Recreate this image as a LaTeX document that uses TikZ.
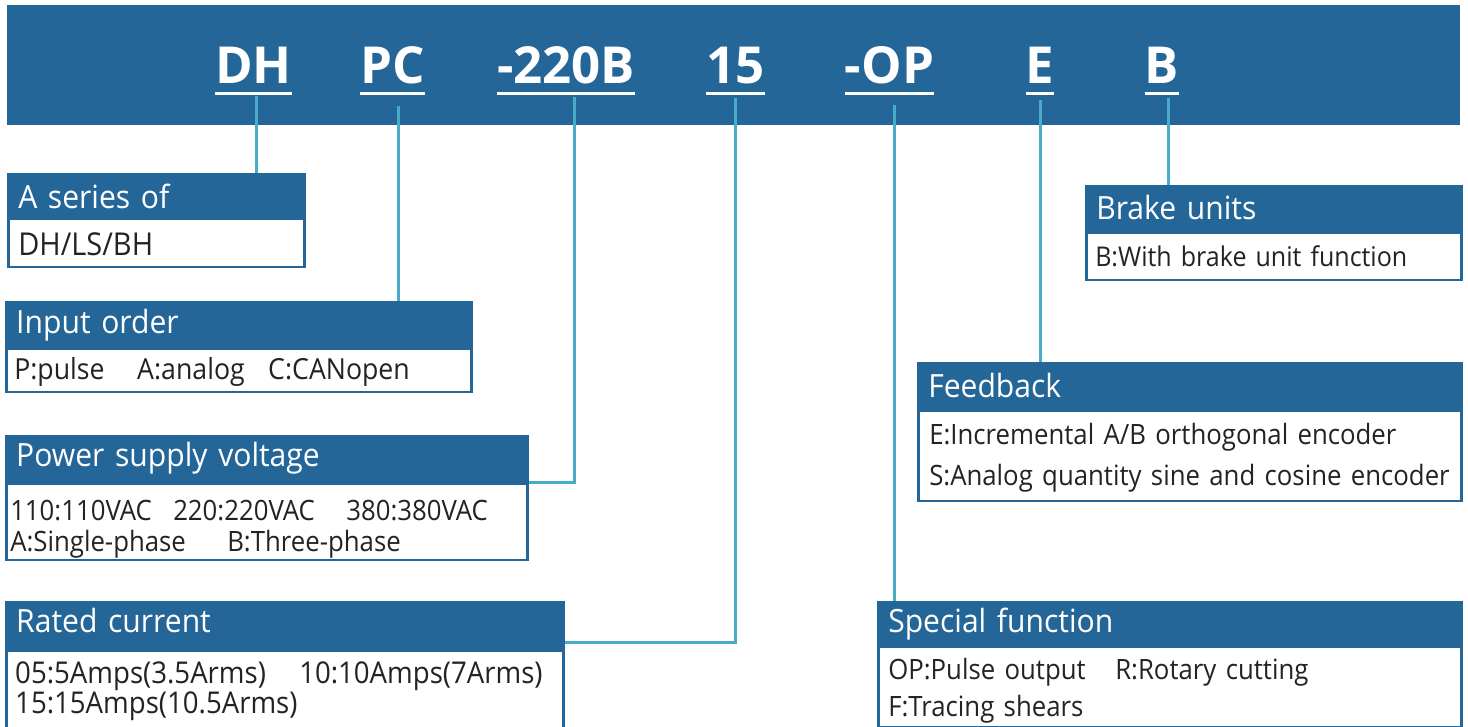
\documentclass[tikz,border=0pt]{standalone}
\usepackage{fontspec}
\setmainfont{Open Sans}
\newfontfamily\headfont[FakeStretch=0.94]{Open Sans}
\newfontfamily\bodyfont[FakeStretch=0.92]{Open Sans}
\usetikzlibrary{positioning}
\definecolor{dhblue}{RGB}{37,102,153}
\definecolor{dhteal}{RGB}{72,172,201}
\definecolor{dhtext}{RGB}{35,35,35}

\tikzset{
  head/.style={draw=dhblue, fill=dhblue, line width=2.5pt, text=white, anchor=north west,
    inner xsep=10pt, inner ysep=0pt, align=left, font=\headfont\fontsize{32}{36}\selectfont},
  body/.style={draw=dhblue, fill=white, line width=2.5pt, text=dhtext, anchor=north west,
    inner xsep=10pt, inner ysep=0pt, align=left, font=\bodyfont\fontsize{28}{32}\selectfont},
  bsize/.style={font=\bodyfont\fontsize{#1}{32}\selectfont},
  code/.style={text=white, anchor=base, inner xsep=0pt, inner ysep=10pt,
    font=\bfseries\fontsize{51}{51}\selectfont},
  uline/.style={white, line width=3pt},
  link/.style={dhteal, line width=3pt},
}

\begin{document}
\begin{tikzpicture}[x=1pt,y=-1pt]
\useasboundingbox (0,0) rectangle (1468,726);
% banner with the model code
\fill[dhblue] (7,5) rectangle (1460,125);
\node[code] (cDH) at (253.5,83) {DH};
\node[code] (cPC) at (392.5,83) {PC};
\node[code] (cVolt) at (566,83) {-220B};
\node[code] (cAmp) at (735.5,83) {15};
\node[code] (cOP) at (889.5,83) {-OP};
\node[code] (cE) at (1040,83) {E};
\node[code] (cB) at (1162,83) {B};
\foreach \c in {cDH,cPC,cVolt,cAmp,cOP,cE,cB}
  \draw[uline] (\c.south west) -- (\c.south east);

% left column
\node[head, text width=276pt, text height=34pt, text depth=8pt] (tSeries) at (7,173) {A series of};
\node[body, bsize=31.5, text width=276pt, text height=37pt, text depth=11pt, below=0pt of tSeries.south west, anchor=north west] (bSeries) {DH/LS/BH};

\node[head, text width=445pt, text height=31pt, text depth=13pt] (tInput) at (5,301) {Input order};
\node[body, bsize=29, inner xsep=8pt, text width=449pt, text height=31pt, text depth=12pt, below=0pt of tInput.south west, anchor=north west] (bInput)
  {\makebox[123pt][l]{P:pulse}\makebox[131pt][l]{A:analog}C:CANopen};

\node[head, text width=501pt, text height=30pt, text depth=15pt] (tPower) at (5,435) {Power supply voltage};
\node[body, inner xsep=4pt, text width=513pt, text height=37pt, text depth=39pt, below=0pt of tPower.south west, anchor=north west] (bPower)
  {\makebox[163pt][l]{110:110VAC}\makebox[173pt][l]{220:220VAC}380:380VAC\\[-1pt]
   \makebox[217pt][l]{A:Single-phase}B:Three-phase};

\node[head, text width=537pt, text height=30pt, text depth=16pt] (tRated) at (5,601) {Rated current};
\node[body, bsize=30, inner xsep=9pt, text width=539pt, text height=33pt, text depth=44pt, below=0pt of tRated.south west, anchor=north west] (bRated)
  {\makebox[284pt][l]{05:5Amps(3.5Arms)}10:10Amps(7Arms)\\[-2pt]
   15:15Amps(10.5Arms)};

% right column
\node[head, text width=355pt, text height=33pt, text depth=11pt] (tBrake) at (1085,185) {Brake units};
\node[body, bsize=27.2, inner xsep=9pt, text width=357pt, text height=34pt, text depth=13pt, below=0pt of tBrake.south west, anchor=north west] (bBrake) {B:With brake unit function};

\node[head, text width=523pt, text height=34pt, text depth=11pt] (tFeed) at (917,362) {Feedback};
\node[body, inner xsep=11pt, text width=521pt, text height=34pt, text depth=56pt, below=0pt of tFeed.south west, anchor=north west] (bFeed)
  {E:Incremental A/B orthogonal encoder\\[9pt]
   S:Analog quantity sine and cosine encoder};

\node[head, text width=563pt, text height=30pt, text depth=12pt] (tSpecial) at (877,601) {Special function};
\node[body, text width=563pt, text height=33pt, text depth=47pt, below=0pt of tSpecial.south west, anchor=north west] (bSpecial)
  {\makebox[227pt][l]{OP:Pulse output}R:Rotary cutting\\[5pt]
   F:Tracing shears};

% connectors
\draw[link] ([xshift=2.5pt,yshift=-3pt]cDH.south) -- ([xshift=2.5pt]cDH.south |- tSeries.north);
\draw[link] ([xshift=5.5pt,yshift=-12pt]cPC.south) -- ([xshift=5.5pt]cPC.south |- tInput.north);
\draw[link] ([xshift=8pt,yshift=-3pt]cVolt.south) |- (bPower.north east);
\draw[link] ([yshift=-4pt]cAmp.south) |- ([yshift=7pt]tRated.south east);
\draw[link] ([xshift=4.5pt,yshift=-11pt]cOP.south) -- ([xshift=4.5pt]cOP.south |- tSpecial.north);
\draw[link] ([yshift=-7pt]cE.south) -- (cE.south |- tFeed.north);
\draw[link] ([xshift=6pt,yshift=-5pt]cB.south) -- ([xshift=6pt]cB.south |- tBrake.north);
\end{tikzpicture}
\end{document}
